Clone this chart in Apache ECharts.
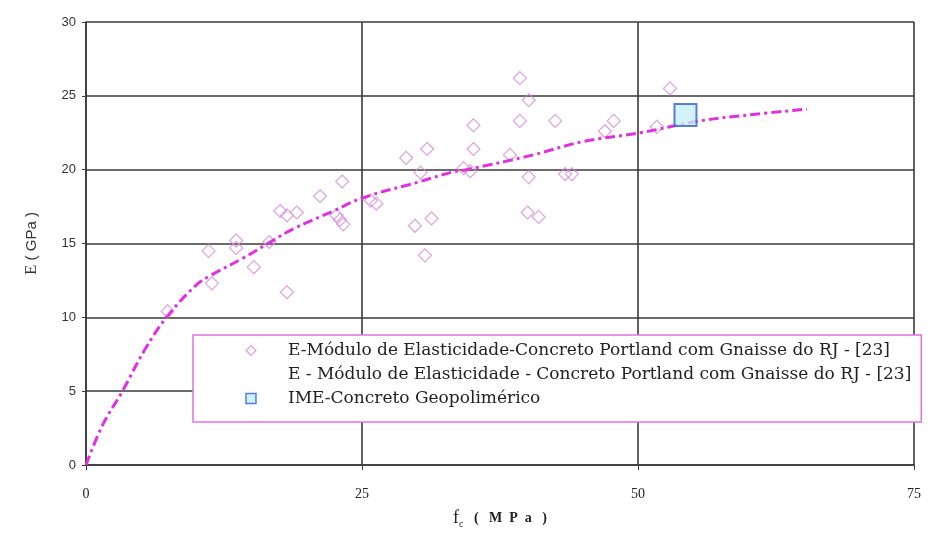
<!DOCTYPE html>
<html>
<head>
<meta charset="utf-8">
<script src="https://cdn.jsdelivr.net/npm/echarts@6/dist/echarts.min.js"></script>
<style>
  html, body { margin: 0; padding: 0; background: #ffffff; }
  #chart { width: 929px; height: 534px; }
</style>
</head>
<body>
<div id="chart"></div>
<script>
// Ensaios de referência: resistência à compressão fc (MPa) x módulo E (GPa)
const refFc = [7.4, 11.1, 11.4, 13.6, 13.6, 15.2, 16.6, 17.6, 18.2, 19.1, 18.2, 21.2, 23.2, 22.7, 23.0, 23.3,
  25.8, 26.3, 29.0, 30.9, 30.3, 29.8, 31.3, 30.7, 35.1, 35.1, 34.2, 34.8, 39.3, 40.1, 39.3, 38.4,
  40.1, 40.0, 41.0, 42.5, 43.4, 44.0, 47.0, 47.8, 51.7, 52.9];
const refE = [10.4, 14.5, 12.3, 15.2, 14.7, 13.4, 15.1, 17.2, 16.9, 17.1, 11.7, 18.2, 19.2, 16.9, 16.6, 16.3,
  17.9, 17.7, 20.8, 21.4, 19.8, 16.2, 16.7, 14.2, 23.0, 21.4, 20.1, 19.9, 26.2, 24.7, 23.3, 21.0,
  19.5, 17.1, 16.8, 23.3, 19.7, 19.7, 22.6, 23.3, 22.9, 25.5];

// Curva de tendência dos ensaios de referência
const trendFc = [0, 1.5, 3.3, 5.4, 7.4, 10.0, 11.2, 14.2, 16.7, 18.8, 22.4, 25.1, 30.3, 33.0, 34.5, 40.5, 45.0, 50.2, 55.6, 60.0, 65.3];
const trendE = [0, 2.7, 5.0, 7.9, 10.1, 12.2, 12.8, 14.0, 15.1, 16.0, 17.2, 18.1, 19.2, 19.8, 20.0, 21.0, 21.9, 22.5, 23.3, 23.7, 24.1];

// Concreto geopolimérico (IME)
const imeFc = [54.3];
const imeE = [23.7];

const xTicks = [0, 25, 50, 75];
const yTicks = [0, 5, 10, 15, 20, 25, 30];

const nameRef = 'E-Módulo de Elasticidade-Concreto Portland com Gnaisse do RJ - [23]';
const nameTrend = 'E - Módulo de Elasticidade - Concreto Portland com Gnaisse do RJ - [23]';
const nameIme = 'IME-Concreto Geopolimérico';

const pairs = (xs, ys) => xs.map((x, i) => [x, ys[i]]);

const gridColor = '#3a3a3a';
const chart = echarts.init(document.getElementById('chart'), null, { renderer: 'canvas' });

chart.setOption({
  backgroundColor: '#ffffff',
  animation: false,
  grid: { left: 86, right: 15, top: 22, bottom: 67, containLabel: false },
  xAxis: {
    type: 'value',
    min: xTicks[0],
    max: xTicks[xTicks.length - 1],
    interval: xTicks[1] - xTicks[0],
    axisLine: { show: true, onZero: false, lineStyle: { color: gridColor, width: 1.6 } },
    axisTick: { show: true, length: 5, lineStyle: { color: gridColor, width: 1 } },
    splitLine: { show: true, lineStyle: { color: gridColor, width: 1.6 } },
    axisLabel: { margin: 22, fontFamily: 'Liberation Serif', fontSize: 14, color: '#222' },
    name: '{f|f}{c|c}{u|   (   M  P  a   )}',
    nameLocation: 'middle',
    nameGap: 42,
    nameTextStyle: {
      rich: {
        f: { fontFamily: 'Liberation Serif', fontSize: 18, color: '#222', lineHeight: 22, verticalAlign: 'middle' },
        c: { fontFamily: 'Liberation Serif', fontSize: 10, color: '#222', lineHeight: 22, verticalAlign: 'bottom', padding: [10, 0, 0, 0] },
        u: { fontFamily: 'Liberation Serif', fontWeight: 'bold', fontSize: 14, color: '#222', lineHeight: 22, verticalAlign: 'middle' }
      }
    }
  },
  yAxis: {
    type: 'value',
    min: yTicks[0],
    max: yTicks[yTicks.length - 1],
    interval: yTicks[1] - yTicks[0],
    axisLine: { show: true, lineStyle: { color: gridColor, width: 1.6 } },
    axisTick: { show: true, length: 4, lineStyle: { color: gridColor, width: 1 } },
    splitLine: { show: true, lineStyle: { color: gridColor, width: 1.6 } },
    axisLabel: { margin: 10, fontFamily: 'Liberation Sans', fontSize: 13, color: '#333' },
    name: '{e|E} ( GPa )',
    nameLocation: 'middle',
    nameGap: 46,
    nameRotate: 90,
    nameTextStyle: {
      rich: {
        e: { fontFamily: 'Liberation Serif', fontSize: 17, color: '#333' },
        default: { fontFamily: 'Liberation Sans', fontSize: 15, color: '#333' }
      },
      fontFamily: 'Liberation Sans', fontSize: 15, color: '#333'
    }
  },
  legend: {
    orient: 'vertical',
    left: 193,
    top: 335,
    padding: [7, 10, 15, 52],
    itemGap: 7,
    itemWidth: 10,
    itemHeight: 10,
    backgroundColor: '#ffffff',
    borderColor: '#e070e0',
    borderWidth: 1.5,
    borderRadius: 0,
    selectedMode: false,
    textStyle: { fontFamily: 'DejaVu Serif', fontSize: 17, lineHeight: 17, color: '#222', padding: [0, 0, 0, 27] },
    data: [
      { name: nameRef, icon: 'diamond', itemStyle: { color: 'rgba(0,0,0,0)', borderColor: '#d68ad6', borderWidth: 1.2 } },
      { name: nameTrend, itemStyle: { opacity: 0 }, lineStyle: { opacity: 0 } },
      { name: nameIme, icon: 'rect', itemStyle: { color: '#c8f0fb', borderColor: '#2f5fd0', borderWidth: 1.5 } }
    ]
  },
  series: [
    {
      name: nameRef,
      type: 'scatter',
      symbol: 'diamond',
      symbolSize: 13,
      data: pairs(refFc, refE),
      itemStyle: { color: 'rgba(0,0,0,0)', borderColor: '#d68ad6', borderWidth: 1.2 },
      z: 2
    },
    {
      name: nameTrend,
      type: 'line',
      data: pairs(trendFc, trendE),
      smooth: 0.4,
      showSymbol: false,
      symbol: 'none',
      lineStyle: { color: '#e030e0', width: 3, type: [10, 4, 3, 4] },
      itemStyle: { color: '#e030e0' },
      z: 3
    },
    {
      name: nameIme,
      type: 'scatter',
      symbol: 'rect',
      symbolSize: 22,
      data: pairs(imeFc, imeE),
      itemStyle: { color: '#c8f0fb', borderColor: '#2f5fd0', borderWidth: 2 },
      z: 4
    }
  ]
});
</script>
</body>
</html>
